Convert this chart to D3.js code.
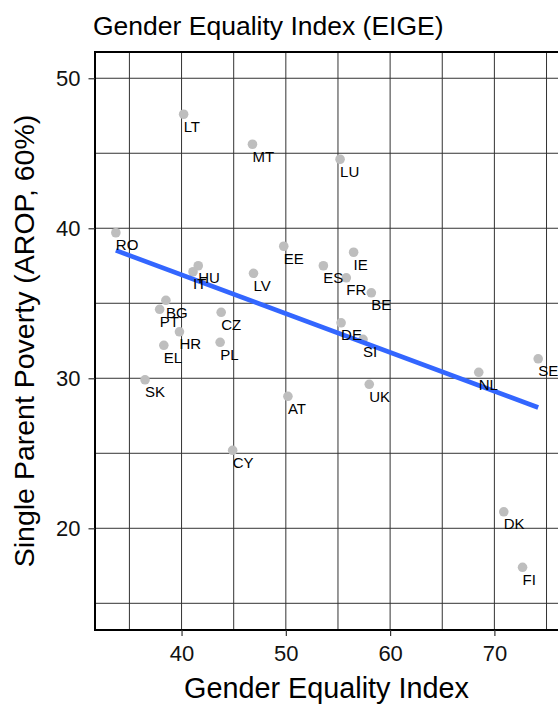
<!DOCTYPE html>
<html>
<head>
<meta charset="utf-8">
<script src="https://cdn.jsdelivr.net/npm/d3@7"></script>
<style>
  body { margin: 0; background: #fff; }
  svg { display: block; font-family: "Liberation Sans", Arial, Helvetica, sans-serif; }
</style>
</head>
<body>
<svg id="chart" width="558" height="704"></svg>
<script>
// country codes with Gender Equality Index (x) and single parent AROP 60% (y)
const countries = ["LT", "MT", "RO", "LU", "EE", "IE", "ES", "FR", "BE", "DE", "SI", "NL", "SE", "UK",
    "AT", "HU", "IT", "LV", "BG", "PT", "CZ", "HR", "EL", "PL", "SK", "CY", "DK", "FI"];
const gei_values = [40.2, 46.8, 33.7, 55.2, 49.8, 56.5, 53.6, 55.8, 58.2, 55.3, 57.4, 68.5, 74.2, 58.0,
    50.2, 41.6, 41.1, 46.9, 38.5, 37.9, 43.8, 39.8, 38.3, 43.7, 36.5, 44.9, 70.9, 72.7];
const arop_values = [47.6, 45.6, 39.7, 44.6, 38.8, 38.4, 37.5, 36.7, 35.7, 33.7, 32.6, 30.4, 31.3, 29.6,
    28.8, 37.5, 37.1, 37.0, 35.2, 34.6, 34.4, 33.1, 32.2, 32.4, 29.9, 25.2, 21.1, 17.4];

const x_ticks = [40, 50, 60, 70];
const x_minor = [35, 45, 55, 65, 75];
const y_ticks = [20, 30, 40, 50];
const y_minor = [15, 25, 35, 45];

const chart_title = "Gender Equality Index (EIGE)";
const x_title = "Gender Equality Index";
const y_title = "Single Parent Poverty (AROP, 60%)";

const svg = d3.select("#chart");

const panel_left = 95;
const panel_right = 558;
const panel_top = 52;
const panel_bottom = 630;

const x = d3.scaleLinear().domain([31.7, 76.1]).range([panel_left, panel_right]);
const y = d3.scaleLinear().domain([13.22, 51.75]).range([panel_bottom, panel_top]);

const grid_color = "#333";
const point_color = "#bebebe";
const line_color = "#3366ff";

const data = countries.map((c, i) => ({ code: c, gei: gei_values[i], arop: arop_values[i] }));

// grid lines
const grid = svg.append("g");
grid.selectAll(".vgrid")
    .data(x_ticks.concat(x_minor))
    .join("line")
    .attr("x1", d => x(d))
    .attr("x2", d => x(d))
    .attr("y1", panel_top)
    .attr("y2", panel_bottom)
    .attr("stroke", grid_color)
    .attr("stroke-width", 1);
grid.selectAll(".hgrid")
    .data(y_ticks.concat(y_minor))
    .join("line")
    .attr("x1", panel_left)
    .attr("x2", panel_right + 10)
    .attr("y1", d => y(d))
    .attr("y2", d => y(d))
    .attr("stroke", grid_color)
    .attr("stroke-width", 1);

// panel border (right side runs off the picture)
svg.append("rect")
    .attr("x", panel_left)
    .attr("y", panel_top)
    .attr("width", panel_right - panel_left + 20)
    .attr("height", panel_bottom - panel_top)
    .attr("fill", "none")
    .attr("stroke", "#000")
    .attr("stroke-width", 2);

// points
svg.append("g")
    .selectAll("circle")
    .data(data)
    .join("circle")
    .attr("cx", d => x(d.gei))
    .attr("cy", d => y(d.arop))
    .attr("r", 4.8)
    .attr("fill", point_color);

// linear fit over the data range
function linearFit(xs, ys) {
    const mx = d3.mean(xs);
    const my = d3.mean(ys);
    let sxy = 0;
    let sxx = 0;
    for (let i = 0; i < xs.length; i++) {
        sxy += (xs[i] - mx) * (ys[i] - my);
        sxx += (xs[i] - mx) * (xs[i] - mx);
    }
    const slope = sxy / sxx;
    return { slope: slope, intercept: my - slope * mx };
}
const fit = linearFit(gei_values, arop_values);
const fit_x = d3.extent(gei_values);
const fit_points = fit_x.map(v => [v, fit.intercept + fit.slope * v]);

svg.append("path")
    .datum(fit_points)
    .attr("d", d3.line().x(d => x(d[0])).y(d => y(d[1])))
    .attr("fill", "none")
    .attr("stroke", line_color)
    .attr("stroke-width", 4.6);

// country labels
svg.append("g")
    .selectAll("text")
    .data(data)
    .join("text")
    .attr("x", d => x(d.gei))
    .attr("y", d => y(d.arop) + 17.5)
    .attr("font-size", 15)
    .attr("fill", "#000")
    .text(d => d.code);

// axes
const xAxis = svg.append("g")
    .attr("transform", `translate(0,${panel_bottom})`)
    .call(d3.axisBottom(x).tickValues(x_ticks).tickSize(6).tickPadding(9));
const yAxis = svg.append("g")
    .attr("transform", `translate(${panel_left},0)`)
    .call(d3.axisLeft(y).tickValues(y_ticks).tickSize(6.5).tickPadding(8));

[xAxis, yAxis].forEach(ax => {
    ax.select(".domain").remove();
    ax.selectAll(".tick line").attr("stroke", "#333").attr("stroke-width", 1.2);
    ax.selectAll(".tick text")
        .attr("font-size", 22)
        .attr("font-family", "Liberation Sans, Arial, sans-serif")
        .attr("fill", "#111");
});

// titles
svg.append("text")
    .attr("x", 93)
    .attr("y", 35)
    .attr("font-size", 26.5)
    .attr("fill", "#000")
    .text(chart_title);

svg.append("text")
    .attr("x", (panel_left + panel_right) / 2)
    .attr("y", 698)
    .attr("text-anchor", "middle")
    .attr("font-size", 28.8)
    .attr("fill", "#000")
    .text(x_title);

svg.append("text")
    .attr("transform", `translate(33.5,${(panel_top + panel_bottom) / 2}) rotate(-90)`)
    .attr("text-anchor", "middle")
    .attr("font-size", 28.5)
    .attr("fill", "#000")
    .text(y_title);
</script>
</body>
</html>
